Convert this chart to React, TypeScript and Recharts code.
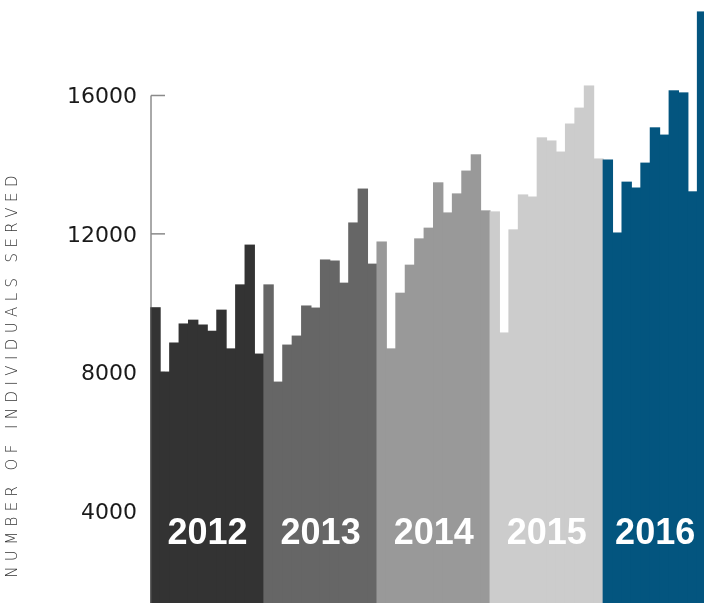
import React from 'react';
import { BarChart, Bar, XAxis, YAxis, ReferenceLine, ReferenceArea } from 'recharts';

const years = ['2012', '2013', '2014', '2015', '2016'];
const served2012 = [9880, 8020, 8860, 9410, 9520, 9380, 9200, 9810, 8690, 10540, 11690, 8540];
const served2013 = [10540, 7730, 8800, 9060, 9930, 9870, 11260, 11230, 10590, 12330, 13310, 11140];
const served2014 = [11780, 8690, 10300, 11110, 11870, 12180, 13490, 12620, 13170, 13830, 14300, 12680];
const served2015 = [12650, 9150, 12130, 13140, 13080, 14790, 14700, 14380, 15190, 15650, 16290, 14180];
const served2016 = [14150, 12040, 13510, 13340, 14060, 15080, 14870, 16150, 16090, 13230, 18430];
const yTicks = [4000, 8000, 12000, 16000];

const seriesByYear = [served2012, served2013, served2014, served2015, served2016];
const yearColors: Record<string, string> = {
  '2012': '#333333',
  '2013': '#666666',
  '2014': '#999999',
  '2015': '#cccccc',
  '2016': '#03557f',
};

const rows = years.flatMap((year, yi) =>
  seriesByYear[yi].map((value, mi) => ({ key: `${year}-${mi + 1}`, year, value }))
);

// Bars fill their whole month band (no gaps between months)
const BandBar = (props: any) => {
  const { x, y, width, height, payload } = props;
  if (height == null || height <= 0) return null;
  return (
    <rect
      x={x - 0.7}
      y={y}
      width={width + 1.4}
      height={height}
      fill={yearColors[payload.year]}
    />
  );
};

const YTick = (props: any) => {
  const { x, y, payload } = props;
  return (
    <g>
      <text
        x={x}
        y={y}
        dy="0.36em"
        textAnchor="end"
        fill="#1a1a1a"
        fontSize={22}
        fontFamily="'DejaVu Sans', sans-serif"
      >
        {payload.value}
      </text>
      <line
        x1={x + 14}
        x2={x + 28}
        y1={y}
        y2={y}
        stroke="#8a8a8a"
        strokeWidth={1.5}
        style={{ mixBlendMode: 'darken' }}
      />
    </g>
  );
};

const YTitle = (props: any) => {
  const { viewBox } = props;
  const cx = viewBox.x + 17;
  const cy = viewBox.y + viewBox.height / 2 + 45;
  return (
    <text
      x={cx}
      y={cy}
      transform={`rotate(-90, ${cx}, ${cy})`}
      textAnchor="middle"
      fill="#333333"
      fontSize={15}
      fontWeight={200}
      letterSpacing={5.4}
      fontFamily="'DejaVu Sans', sans-serif"
    >
      NUMBER OF INDIVIDUALS SERVED
    </text>
  );
};

export default function App() {
  return (
    <div style={{ position: 'fixed', left: 0, top: 0, width: 704, height: 603, overflow: 'hidden', background: '#fff' }}>
      <BarChart
        width={707}
        height={649}
        data={rows}
        margin={{ top: 9, right: 0, bottom: 0, left: 0 }}
        barCategoryGap={0}
        barGap={0}
      >
        <XAxis dataKey="key" type="category" hide />
        <YAxis
          width={151}
          domain={[0, 18500]}
          ticks={yTicks}
          axisLine={false}
          tickLine={false}
          tickSize={0}
          tickMargin={14}
          tick={<YTick />}
          label={<YTitle />}
        />
        <Bar dataKey="value" isAnimationActive={false} shape={<BandBar />} />
        <ReferenceLine
          segment={[{ x: rows[0].key, y: 0 }, { x: rows[0].key, y: 16000 }]}
          position="start"
          stroke="#555555"
          strokeWidth={1}
        />
        {years.map((year, yi) => {
          const list = seriesByYear[yi];
          return (
            <ReferenceArea
              key={year}
              x1={`${year}-1`}
              x2={`${year}-${list.length}`}
              y1={2400}
              y2={4400}
              fill="none"
              fillOpacity={0}
              stroke="none"
              label={{
                value: year,
                position: 'center',
                fill: '#ffffff',
                fontSize: 36,
                fontWeight: 700,
                fontFamily: "'Liberation Sans', Arial, sans-serif",
              }}
            />
          );
        })}
      </BarChart>
    </div>
  );
}
